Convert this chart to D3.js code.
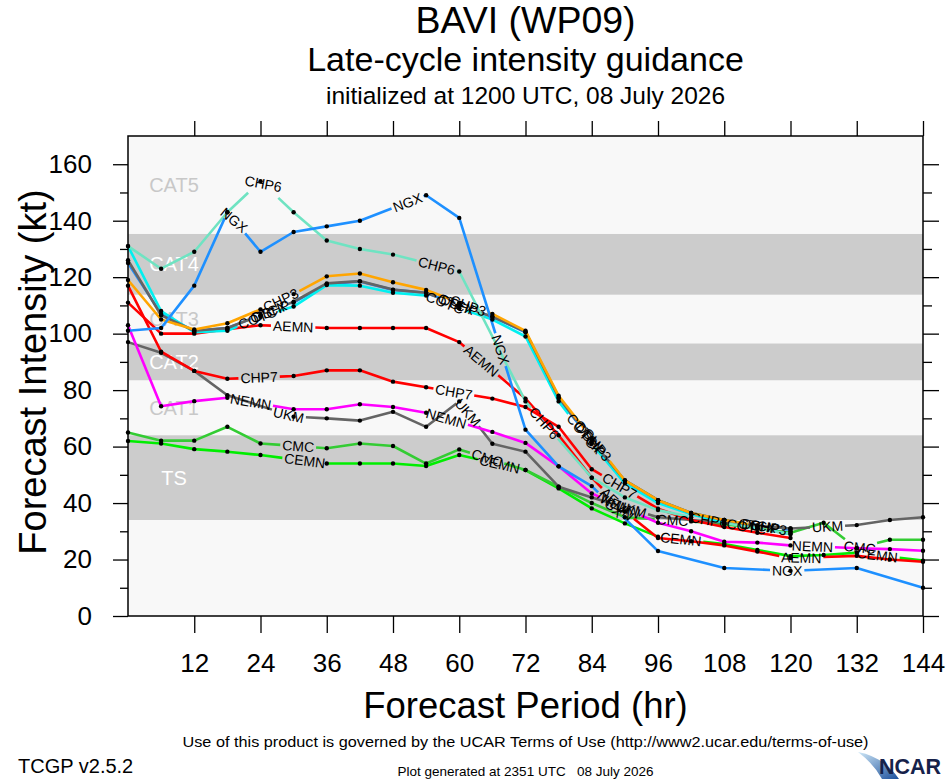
<!DOCTYPE html>
<html><head><meta charset="utf-8">
<script src="https://cdn.jsdelivr.net/npm/d3@7"></script>
<style>
body{margin:0;background:#fff;}
svg{display:block;}
text{font-family:"Liberation Sans",Arial,Helvetica,sans-serif;}
</style>
</head><body>
<svg id="chart" width="946" height="780"></svg>
<script>
// ---------------- DATA ----------------
const hours = [0,6,12,18,24,30,36,42,48,54,60,66,72,78,84,90,96,102,108,114,120,126,132,138,144];
const xTickValues = [12,24,36,48,60,72,84,96,108,120,132,144];
const yTickValues = [0,20,40,60,80,100,120,140,160];
const yMinorValues = [10,30,50,70,90,110,130,150];

const bandNames  = ["TS","CAT1","CAT2","CAT3","CAT4","CAT5"];
const bandLow    = [34, 64, 83.5, 96.5, 113.8, 135.3];
const bandHigh   = [64, 83.5, 96.5, 113.8, 135.3, 170];
const bandShaded = [true,false,true,false,true,false];

const models = ["CEMN","CMC","UKM","NEMN","CHP7","AEMN","DSHP","COTC","CTCX","CHP3","CHP6","NGX"];

const CEMN = [62,61.1,59.1,58.2,57,null,54,54,54,53.1,57,null,51.7,45.2,38.1,32.8,28.1,null,25.5,23.4,21.2,21.6,22.4,null,19.6];
const CMC  = [65,62.1,62.1,67,61.1,null,59.4,61.1,60.2,54,59,null,51.7,45.8,40,35,null,33.5,32.5,31,29.5,33,24,27,27];
const UKM  = [97,93.2,86.8,78.2,null,70.6,70,69.2,72.3,67,76,61,58.2,45.8,42,null,35,34,33,32,31,null,32.2,34,35];
const NEMN = [103,74.3,76.1,77.3,null,73.2,73.2,75,74,72,null,65.2,61.3,53,43.4,null,33,30,26.3,26,25,null,24,23.7,23.1];
const CHP7 = [117,93.6,86.8,84,null,85,87,87,83,81,null,77,74,67,52,null,38,34,31.5,29.5,27.6,null,null,null,null];
const AEMN = [111,100,100,101.6,103,null,102,102,102,102,97,null,77,64,49,37,27.6,26.5,25,22.8,20.5,null,21.3,20,19.2];
const DSHP = [125,107,101,102,106.5,111,117.5,118.5,115.5,114.5,110,106,100.5,77,62,48,41,36.5,34,32,30.5,null,null,null,null];
const COTC = [131,108,100.5,101,106,109.6,117.2,117,114.5,113.5,109,105,99,76,61,47,40,36,33,31,29,null,null,null,null];
const CTCX = [126,106.5,101,102,106.5,111.3,117.8,118.6,115.6,114.5,110,106,100.7,77.5,62,48,41,36.5,34,32,31,null,null,null,null];
const CHP3 = [119,105,101.5,103.7,108.6,114,120.3,121.3,118.2,115.5,111,107,101,78,63,48,41,36.5,34,32,30,null,null,null,null];
const CHP6 = [131,123,129,143,154,143,133,130,128,null,122,null,76,null,49,42,37.5,35,null,31,29,null,null,null,null];
const NGX  = [101,102,117,143,129,136,138,140,null,149,141,null,66,53,46,null,23,null,17,null,16,null,17,null,10];

const seriesValues = {CEMN,CMC,UKM,NEMN,CHP7,AEMN,DSHP,COTC,CTCX,CHP3,CHP6,NGX};

// ---------------- STYLE ----------------
const colors = {
  CEMN:"#00ee00", CMC:"#33cc33", UKM:"#646464", NEMN:"#ff00ff", CHP7:"#ff0000",
  AEMN:"#ff0000", DSHP:"#1e90ff", COTC:"#00f0f0", CTCX:"#646464", CHP3:"#ffa500",
  CHP6:"#6fe3c2", NGX:"#1e90ff"
};
const FONT = '"Liberation Sans",Arial,Helvetica,sans-serif';

const svg = d3.select("#chart");
const x = d3.scaleLinear().domain([0,144]).range([128,923]);
const y = d3.scaleLinear().domain([0,170]).range([616,136]);

// titles
const cx = (x(0)+x(144))/2;
svg.append("text").attr("x",cx).attr("y",33).attr("text-anchor","middle")
  .attr("font-size",37.5).text("BAVI (WP09)");
svg.append("text").attr("x",cx).attr("y",71).attr("text-anchor","middle")
  .attr("font-size",34).text("Late-cycle intensity guidance");
svg.append("text").attr("x",cx).attr("y",104).attr("text-anchor","middle")
  .attr("font-size",24.5).text("initialized at 1200 UTC, 08 July 2026");

// plot background & bands
svg.append("rect").attr("x",x(0)).attr("y",y(170)).attr("width",x(144)-x(0))
  .attr("height",y(0)-y(170)).attr("fill","#f8f8f8");
bandNames.forEach((n,i)=>{
  if (bandShaded[i]) {
    svg.append("rect").attr("x",x(0)).attr("y",y(bandHigh[i]))
      .attr("width",x(144)-x(0)).attr("height",y(bandLow[i])-y(bandHigh[i]))
      .attr("fill","#cccccc");
  }
});
bandNames.forEach((n,i)=>{
  svg.append("text").attr("x",x(0)+46).attr("y",y((bandLow[i]+bandHigh[i])/2))
    .attr("text-anchor","middle").attr("dominant-baseline","central")
    .attr("font-size",20).attr("fill",bandShaded[i]?"#ffffff":"#c8c8c8").text(n);
});

// axes
function styleAxis(g){ g.select(".domain").remove(); g.selectAll("line").attr("stroke","#000").attr("stroke-width",1.3); g.selectAll("text").attr("font-family",FONT).attr("fill","#000"); }
svg.append("g").attr("transform",`translate(0,${y(0)})`)
  .call(d3.axisBottom(x).tickValues(xTickValues).tickSize(17).tickSizeOuter(0).tickPadding(21))
  .call(styleAxis).call(g=>g.selectAll("text").attr("font-size",26));
svg.append("g").attr("transform",`translate(0,${y(170)})`)
  .call(d3.axisTop(x).tickValues(xTickValues).tickSize(15).tickSizeOuter(0).tickFormat(""))
  .call(styleAxis);
svg.append("g").attr("transform",`translate(${x(0)},0)`)
  .call(d3.axisLeft(y).tickValues(yTickValues).tickSize(15).tickSizeOuter(0).tickPadding(21))
  .call(styleAxis).call(g=>g.selectAll("text").attr("font-size",26));
svg.append("g").attr("transform",`translate(${x(0)},0)`)
  .call(d3.axisLeft(y).tickValues(yMinorValues).tickSize(8).tickSizeOuter(0).tickFormat(""))
  .call(styleAxis);
svg.append("g").attr("transform",`translate(${x(144)},0)`)
  .call(d3.axisRight(y).tickValues(yTickValues).tickSize(16).tickSizeOuter(0).tickFormat(""))
  .call(styleAxis);
svg.append("g").attr("transform",`translate(${x(144)},0)`)
  .call(d3.axisRight(y).tickValues(yMinorValues).tickSize(9).tickSizeOuter(0).tickFormat(""))
  .call(styleAxis);

// series
const LABEL_FIRST = 178, LABEL_STEP = 198, LABEL_PAD = 2, LABEL_SIZE = 14;
const line = d3.line().x(d=>x(d.h)).y(d=>y(d.v));
const lineLayer = svg.append("g"), dotLayer = svg.append("g"), labelLayer = svg.append("g");

function measure(str){
  const t = svg.append("text").attr("font-size",LABEL_SIZE).text(str);
  const w = t.node().getComputedTextLength(); t.remove(); return w;
}

models.forEach(m=>{
  const data = hours.map((h,i)=>({h, v: seriesValues[m][i]})).filter(d=>d.v!=null);
  const pts = data.map(d=>[x(d.h), y(d.v)]);
  const cum=[0];
  for(let i=1;i<pts.length;i++) cum.push(cum[i-1]+Math.hypot(pts[i][0]-pts[i-1][0], pts[i][1]-pts[i-1][1]));
  const total = cum[cum.length-1];
  const at = s=>{
    s=Math.max(0,Math.min(total,s));
    let i=0; while(i<cum.length-2 && cum[i+1]<s) i++;
    const t=(s-cum[i])/((cum[i+1]-cum[i])||1);
    return [pts[i][0]+t*(pts[i+1][0]-pts[i][0]), pts[i][1]+t*(pts[i+1][1]-pts[i][1])];
  };
  const w = measure(m);
  const labels=[];
  for(let s=LABEL_FIRST; s+w/2<=total; s+=LABEL_STEP) labels.push(s);
  const dash=[]; let pos=0;
  labels.forEach(s=>{
    const a=Math.max(pos,s-w/2-LABEL_PAD), b=s+w/2+LABEL_PAD;
    dash.push(a-pos, b-a); pos=b;
  });
  dash.push(Math.max(0,total-pos)+2, total+50);
  lineLayer.append("path").datum(data).attr("d",line).attr("fill","none")
    .attr("stroke",colors[m]).attr("stroke-width",2.6).attr("stroke-linejoin","round")
    .attr("stroke-dasharray",dash.join(" "));
  dotLayer.selectAll(null).data(data).enter().append("circle")
    .attr("cx",d=>x(d.h)).attr("cy",d=>y(d.v)).attr("r",2.2).attr("fill","#000");
  labels.forEach(s=>{
    const p0=at(s-w/2), p1=at(s+w/2), c=at(s);
    let ang = Math.atan2(p1[1]-p0[1], p1[0]-p0[0])*180/Math.PI;
    if(ang>90) ang-=180; if(ang<-90) ang+=180;
    labelLayer.append("text").attr("transform",`translate(${c[0]},${c[1]}) rotate(${ang})`)
      .attr("text-anchor","middle").attr("dominant-baseline","central")
      .attr("font-size",LABEL_SIZE).attr("fill","#000").text(m);
  });
});

// frame
svg.append("rect").attr("x",x(0)).attr("y",y(170)).attr("width",x(144)-x(0))
  .attr("height",y(0)-y(170)).attr("fill","none").attr("stroke","#000").attr("stroke-width",1.5);

// axis titles
svg.append("text").attr("x",cx).attr("y",718).attr("text-anchor","middle")
  .attr("font-size",36.5).text("Forecast Period (hr)");
svg.append("text").attr("transform",`translate(46,372) rotate(-90)`).attr("text-anchor","middle")
  .attr("font-size",38).text("Forecast Intensity (kt)");

// footer
svg.append("text").attr("x",cx).attr("y",747).attr("text-anchor","middle")
  .attr("font-size",15.5).attr("textLength",686).attr("lengthAdjust","spacingAndGlyphs")
  .text("Use of this product is governed by the UCAR Terms of Use (http://www2.ucar.edu/terms-of-use)");
svg.append("text").attr("x",18).attr("y",773).attr("font-size",20).text("TCGP v2.5.2");
svg.append("text").attr("x",cx).attr("y",776).attr("text-anchor","middle")
  .attr("font-size",13.5).attr("xml:space","preserve").text("Plot generated at 2351 UTC   08 July 2026");

// NCAR logo
const defs = svg.append("defs");
const grad = defs.append("linearGradient").attr("id","ncarGrad").attr("x1","0").attr("y1","0").attr("x2","1").attr("y2","1");
grad.append("stop").attr("offset","0").attr("stop-color","#cfe8f7");
grad.append("stop").attr("offset","1").attr("stop-color","#1b4f9c");
svg.append("path").attr("d","M858,752 Q884,757 899,779 L882,779 Q874,764 858,752 Z").attr("fill","url(#ncarGrad)");
svg.append("text").attr("x",879).attr("y",774).attr("font-size",22).attr("font-weight","bold")
  .attr("fill","#16224a").attr("textLength",62).attr("lengthAdjust","spacingAndGlyphs").text("NCAR");
</script>
</body></html>
